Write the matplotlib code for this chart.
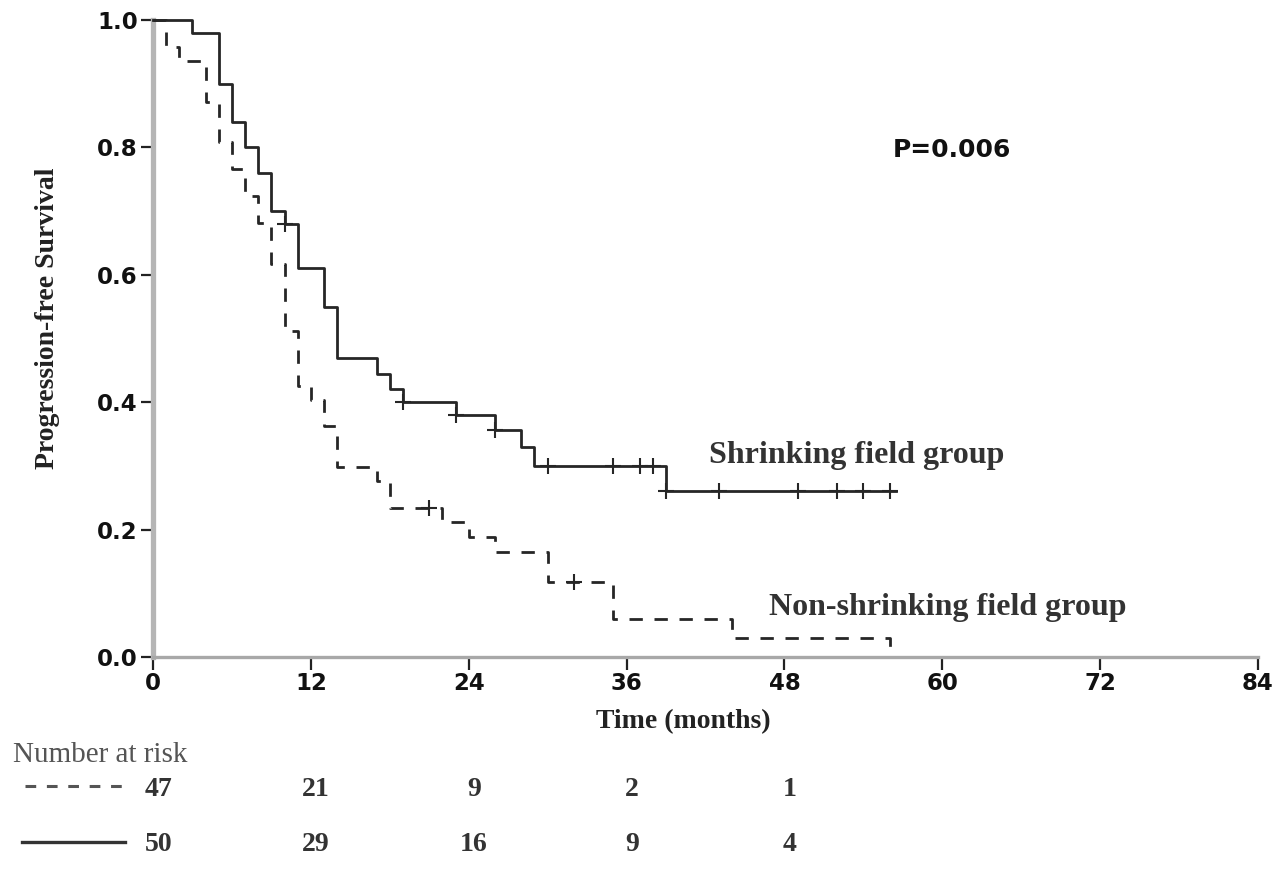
import matplotlib
matplotlib.use("Agg")
import matplotlib.pyplot as plt
from matplotlib.lines import Line2D
import matplotlib.transforms as mtransforms
import numpy as np

# Kaplan-Meier steps
shrink_t = [0, 3, 5, 6, 7, 8, 9, 10, 11, 13, 14, 17, 18, 19, 23, 26, 28, 29, 39]
shrink_s = [1.0, 0.98, 0.90, 0.84, 0.80, 0.76, 0.70, 0.68, 0.61, 0.55, 0.47,
            0.445, 0.42, 0.40, 0.38, 0.356, 0.33, 0.30, 0.26]
shrink_end = 56.5
shrink_cens = [10, 19, 23, 26, 30, 35, 37, 38, 39, 43, 49, 52, 54, 56]

non_t = [0, 1, 2, 4, 5, 6, 7, 8, 9, 10, 11, 12, 13, 14, 17, 18, 22, 24, 26,
         30, 35, 44, 56]
non_s = [1.0, 0.957, 0.936, 0.872, 0.809, 0.766, 0.723, 0.681, 0.617, 0.511,
         0.426, 0.404, 0.362, 0.298, 0.277, 0.234, 0.212, 0.188, 0.165, 0.118,
         0.059, 0.030, 0.0]
non_cens = [21, 32]

risk_times = [0, 12, 24, 36, 48]
risk_non = [47, 21, 9, 2, 1]
risk_shrink = [50, 29, 16, 9, 4]

x_ticks = [0, 12, 24, 36, 48, 60, 72, 84]
y_ticks = [0.0, 0.2, 0.4, 0.6, 0.8, 1.0]

SERIF = ["Liberation Serif", "DejaVu Serif"]
SANS = ["DejaVu Sans"]
LINE_COL = "#262626"
dash = (0, (4.8, 4.2))


def surv_at(times, surv, t):
    idx = np.searchsorted(times, t, side="right") - 1
    return np.array(surv)[idx]


fig = plt.figure(figsize=(12.79, 8.8), dpi=100)
W, H = 1279, 880
ax = fig.add_axes([153 / W, 1 - 657 / H, (1258 - 153) / W, (657 - 20) / H])
ax.set_xlim(0, 84)
ax.set_ylim(0, 1.0)

# curves
ax.step(shrink_t + [shrink_end], shrink_s + [shrink_s[-1]], where="post",
        color=LINE_COL, lw=2.0, clip_on=False, zorder=3)
ax.step(non_t, non_s, where="post", color=LINE_COL, lw=2.0,
        linestyle=dash, clip_on=False, zorder=3)

# censor marks
ax.plot(shrink_cens, surv_at(shrink_t, shrink_s, shrink_cens), "+",
        color=LINE_COL, ms=11, mew=1.5, zorder=4)
ax.plot(non_cens, surv_at(non_t, non_s, non_cens), "+",
        color=LINE_COL, ms=11, mew=1.5, zorder=4)

# axes styling
for side in ["top", "right"]:
    ax.spines[side].set_visible(False)
ax.spines["left"].set_color("#b5b5b5")
ax.spines["left"].set_linewidth(3.8)
ax.spines["bottom"].set_color("#a8a8a8")
ax.spines["bottom"].set_linewidth(2.4)

ax.set_xticks(x_ticks)
ax.set_yticks(y_ticks)
ax.set_yticklabels([f"{v:.1f}" for v in y_ticks])
ax.tick_params(direction="out", length=9, width=1.6, colors="#222222",
               labelsize=16.5, pad=2)
for lab in ax.get_xticklabels() + ax.get_yticklabels():
    lab.set_fontweight("bold")
    lab.set_family(SANS)
    lab.set_color("#111111")

# annotations
ax.text(56.2, 0.796, "P=0.006", family=SANS, fontweight="bold", fontsize=18,
        color="#111111", va="center", ha="left")
ax.text(42.3, 0.317, "Shrinking field group", family=SERIF, fontweight="bold",
        fontsize=23, color="#333333", va="center", ha="left")
ax.text(46.8, 0.077, "Non-shrinking field group", family=SERIF,
        fontweight="bold", fontsize=23, color="#333333", va="center", ha="left")

fig.text(683 / W, 1 - 722 / H, "Time (months)", family=SERIF,
         fontweight="bold", fontsize=20, color="#222222", ha="center",
         va="center")
fig.text(48 / W, 1 - 318 / H, "Progression-free Survival", family=SERIF,
         fontweight="bold", fontsize=20, color="#222222", rotation=90,
         ha="center", va="center")

# number at risk table
fig.text(13 / W, 1 - 762 / H, "Number at risk", family=SERIF, fontsize=21,
         color="#555555", ha="left", va="baseline")
trans = mtransforms.blended_transform_factory(ax.transData, fig.transFigure)
for row_y, counts in [(1 - 796 / H, risk_non), (1 - 851 / H, risk_shrink)]:
    for t, n in zip(risk_times, counts):
        fig.text(t + 0.4, row_y, str(n), transform=trans, family=SERIF,
                 fontweight="bold", fontsize=20, color="#333333",
                 ha="center", va="baseline")

fig.add_artist(Line2D([25 / W, 130 / W], [1 - 786 / H] * 2, color="#555555",
                      lw=2.2, linestyle=(0, (3.5, 3.5))))
fig.add_artist(Line2D([22 / W, 125 / W], [1 - 842 / H] * 2, color="#333333",
                      lw=2.4))

fig.savefig("out.png", dpi=100)
